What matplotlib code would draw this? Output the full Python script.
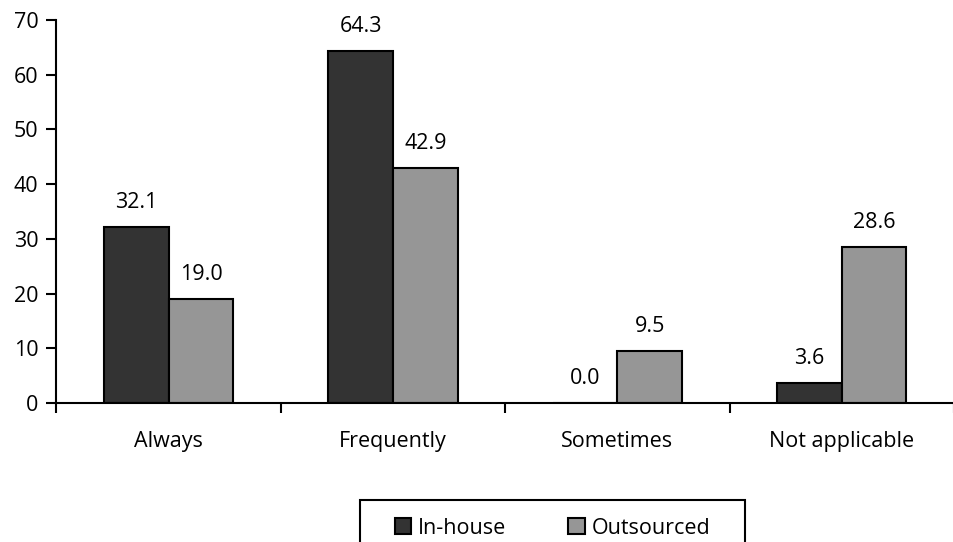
import matplotlib
matplotlib.use("Agg")
import matplotlib.pyplot as plt
from matplotlib.patches import Rectangle
import numpy as np

categories = ["Always", "Frequently", "Sometimes", "Not applicable"]
series_names = ["In-house", "Outsourced"]
inhouse = [32.1, 64.3, 0.0, 3.6]
outsourced = [19.0, 42.9, 9.5, 28.6]
colors = ["#333333", "#969696"]

plt.rcParams['font.family'] = ['Open Sans', 'DejaVu Sans']
FS = 15.5

W, H = 954, 542
fig = plt.figure(figsize=(W / 100, H / 100), dpi=100)
left_px, step_px = 56.5, 226.3
ax = fig.add_axes([left_px / W, 1 - 403 / H, (W - left_px) / W, (403 - 20) / H])

x = np.arange(len(categories))
bw = 0.288
b1 = ax.bar(x - bw / 2, inhouse, bw, color=colors[0], edgecolor="black", linewidth=1.5, label=series_names[0])
b2 = ax.bar(x + bw / 2, outsourced, bw, color=colors[1], edgecolor="black", linewidth=1.5, label=series_names[1])

for bars, vals in ((b1, inhouse), (b2, outsourced)):
    for r, v in zip(bars, vals):
        ax.annotate(f"{v:.1f}", (r.get_x() + r.get_width() / 2, v), xytext=(0, 10),
                    textcoords="offset points", ha="center", va="bottom", fontsize=FS)

ax.set_ylim(0, 70)
ax.set_yticks(range(0, 71, 10))
ax.set_xlim(-0.5, -0.5 + (W - left_px) / step_px)

ax.set_xticks(np.arange(-0.5, len(categories), 1.0))
ax.set_xticklabels([])
ax.set_xticks(x, minor=True)
ax.set_xticklabels(categories, minor=True, fontsize=FS)
ax.tick_params(axis="x", which="minor", length=0, pad=20)
ax.tick_params(axis="x", which="major", direction="out", length=7, width=1.5)
ax.tick_params(axis="y", direction="out", length=7, width=1.5, labelsize=FS, pad=6)

for s in ["top", "right"]:
    ax.spines[s].set_visible(False)
for s in ["left", "bottom"]:
    ax.spines[s].set_linewidth(1.5)

# legend frame
fig.patches.append(Rectangle((360 / W, -0.01), (745 - 360) / W, 1 - 500 / H + 0.01,
                             transform=fig.transFigure, fill=False, edgecolor="black",
                             linewidth=1.5, figure=fig))
fig.legend(handles=[b1, b2], labels=series_names, loc="center",
           bbox_to_anchor=((360 + 745) / 2 / W, 1 - 528 / H), ncol=2, frameon=False,
           fontsize=FS, handlelength=0.78, handleheight=0.78, handletextpad=0.3,
           columnspacing=2.9, borderpad=0)

fig.savefig("out.png", dpi=100)
